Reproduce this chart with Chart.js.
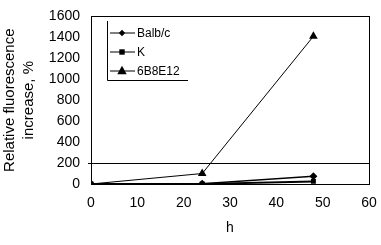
<!DOCTYPE html>
<html>
<head>
<meta charset="utf-8">
<script src="https://cdn.jsdelivr.net/npm/chart.js@4"></script>
<style>
  html, body { margin: 0; padding: 0; background: #fff; }
  #wrap { width: 381px; height: 245px; }
</style>
</head>
<body>
<div id="wrap"><canvas id="myChart" width="381" height="245"></canvas></div>
<script>
const hours = [0, 24, 48];
const balbc = [0, 3, 75];
const k = [0, 0, 25];
const b6e12 = [0, 100, 1410];
const seriesNames = ['Balb/c', 'K', '6B8E12'];
const yTicks = [0, 200, 400, 600, 800, 1000, 1200, 1400, 1600];
const xTicks = [0, 10, 20, 30, 40, 50, 60];

const fam = 'Liberation Sans, Arial, sans-serif';
const font = { family: fam, size: 14 };

const toPoints = (vals) => vals.map((v, i) => ({ x: hours[i], y: v }));

// frame around the plot + legend box in the top-left corner
const framePlugin = {
    id: 'frame',
    afterDraw(chart) {
        const ctx = chart.ctx;
        const a = chart.chartArea;
        ctx.save();
        ctx.strokeStyle = '#000';
        ctx.lineWidth = 1;
        ctx.strokeRect(Math.round(a.left) + 0.5, Math.round(a.top) + 0.5,
            Math.round(a.right - a.left), Math.round(a.bottom - a.top));

        // legend
        const lx = 107, ly = 21, lw = 81, lh = 59;
        ctx.beginPath();
        ctx.moveTo(lx + 0.5, ly);
        ctx.lineTo(lx + 0.5, ly + lh + 0.5);
        ctx.lineTo(lx + lw, ly + lh + 0.5);
        ctx.stroke();
        ctx.font = '12px ' + fam;
        ctx.fillStyle = '#000';
        ctx.textBaseline = 'middle';
        chart.data.datasets.forEach((ds, i) => {
            const yy = ly + 12 + i * 19;
            ctx.lineWidth = 1;
            ctx.beginPath();
            ctx.moveTo(lx + 3, yy);
            ctx.lineTo(lx + 28, yy);
            ctx.stroke();
            drawMarker(ctx, ds.pointStyle, lx + 15, yy, ds.pointRadius - 0.8);
            ctx.fillText(ds.label, lx + 30, yy + 1);
        });
        ctx.restore();
    }
};

function drawMarker(ctx, style, x, y, r) {
    ctx.beginPath();
    if (style === 'rect') {
        ctx.rect(x - r, y - r, r * 2, r * 2);
    } else if (style === 'rectRot') {
        ctx.moveTo(x, y - r); ctx.lineTo(x + r, y); ctx.lineTo(x, y + r); ctx.lineTo(x - r, y);
        ctx.closePath();
    } else {
        ctx.moveTo(x, y - r - 1); ctx.lineTo(x + r + 0.5, y + r - 1); ctx.lineTo(x - r - 0.5, y + r - 1);
        ctx.closePath();
    }
    ctx.fill();
}

new Chart(document.getElementById('myChart'), {
    type: 'line',
    data: {
        datasets: [
            { label: seriesNames[0], data: toPoints(balbc), pointStyle: 'rectRot', pointRadius: 4, borderWidth: 1.5 },
            { label: seriesNames[1], data: toPoints(k), pointStyle: 'rect', pointRadius: 3.5, borderWidth: 2 },
            { label: seriesNames[2], data: toPoints(b6e12), pointStyle: 'triangle', pointRadius: 5, borderWidth: 1 }
        ].map(d => Object.assign(d, {
            borderColor: '#000', backgroundColor: '#000',
            pointBackgroundColor: '#000', pointBorderColor: '#000', pointBorderWidth: 0,
            fill: false, tension: 0
        }))
    },
    options: {
        responsive: false,
        animation: false,
        layout: { padding: { top: 0, right: 12, left: 0, bottom: 0 } },
        plugins: { legend: { display: false }, tooltip: { enabled: false } },
        scales: {
            x: {
                type: 'linear', min: 0, max: 60,
                afterBuildTicks: s => { s.ticks = xTicks.map(v => ({ value: v })); },
                grid: { display: false },
                border: { display: false },
                ticks: { color: '#000', font: font, padding: 3, maxRotation: 0, callback: v => String(v) },
                title: { display: true, text: 'h', color: '#000', font: font, padding: { top: 0, bottom: 8 } },
                afterFit: s => { s.height = 61; }
            },
            y: {
                min: 0, max: 1600,
                afterBuildTicks: s => { s.ticks = yTicks.map(v => ({ value: v })); },
                grid: {
                    color: c => (c.tick && c.tick.value === 200 ? '#000' : 'rgba(0,0,0,0)'),
                    tickLength: 3, lineWidth: 1
                },
                border: { display: false },
                ticks: { color: '#000', font: font, padding: 8, callback: v => String(v) },
                title: {
                    display: true, text: ['Relative fluorescence', 'increase, %'],
                    color: '#000', font: { family: fam, size: 15, lineHeight: 1.3 }, padding: { top: 0, bottom: 4 }
                },
                afterFit: s => { s.width = 91; }
            }
        }
    },
    plugins: [framePlugin]
});
</script>
</body>
</html>
